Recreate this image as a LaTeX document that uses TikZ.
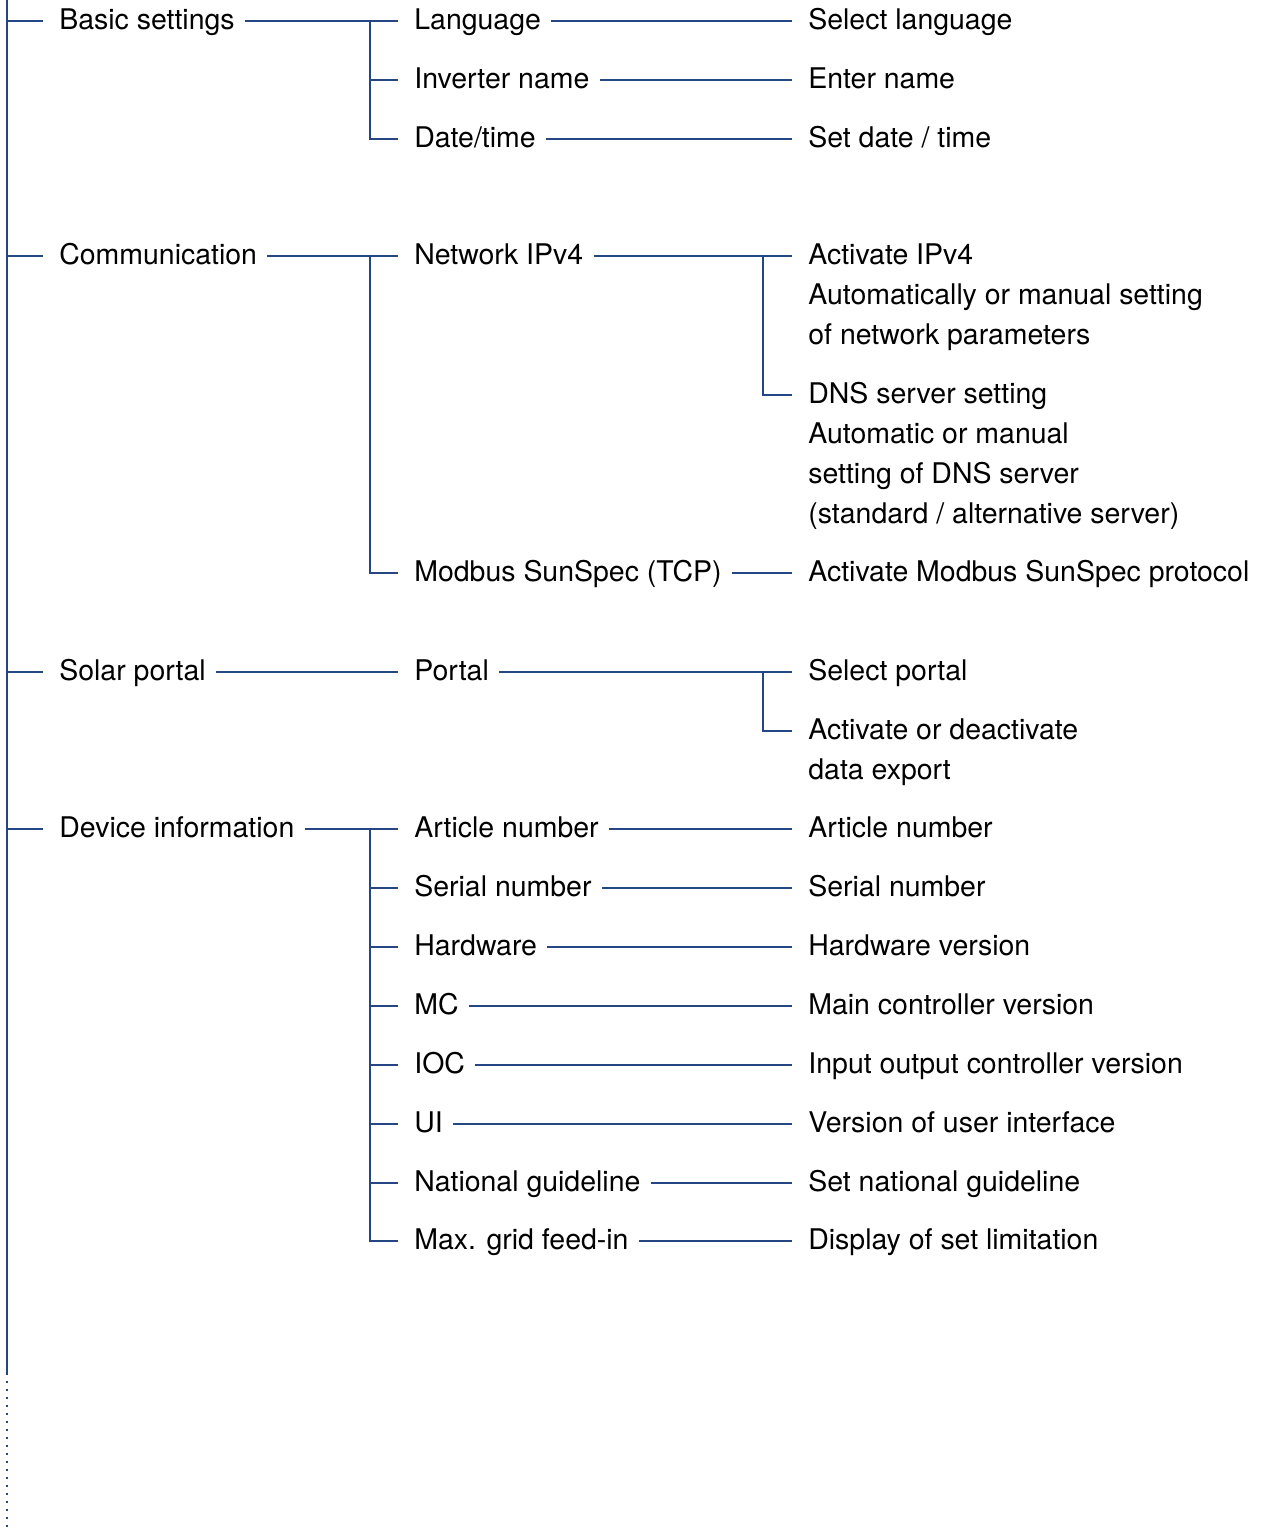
\documentclass[tikz,border=0pt]{standalone}
\usepackage{fontspec}
\setmainfont{TeX Gyre Heros}
\usepackage{tikz}
\usetikzlibrary{positioning}
\definecolor{menublue}{RGB}{36,70,130}

\begin{document}
\begin{tikzpicture}[
  x=0.02cm, y=-0.02cm,
  item/.style={anchor=west, inner sep=0pt, text height=9.7pt, text depth=0pt, font=\fontsize{16.2}{22.76}\selectfont},
  tie/.style={draw=menublue, line width=1.1pt, shorten <=0.2cm, shorten >=0.32cm},
  stub/.style={draw=menublue, line width=1.1pt, shorten >=0.32cm},
  spine/.style={draw=menublue, line width=1.3pt}
]
\useasboundingbox (0,0) rectangle (1274,1528);

\coordinate (spine-top) at (7,0);
\coordinate (spine-end) at (7,1373);
\coordinate (spine-foot) at (7,1528);
\coordinate (fork2) at (370,0);
\coordinate (fork3) at (763,0);

\node[item] (basic) at (59,21) {Basic settings};
\node[item] (comm) at (59,256) {Communication};
\node[item] (solar) at (59,672) {Solar portal};
\node[item] (device) at (59,829) {Device information};

\node[item] (language) at (414,21) {Language};
\node[item] (invname) at (414,80) {Inverter name};
\node[item] (datetime) at (414,139) {Date/time};
\node[item] (netipv4) at (414,256) {Network IPv4};
\node[item] (modbus) at (414,573) {Modbus SunSpec (TCP)};
\node[item] (portal) at (414,672) {Portal};
\node[item] (article) at (414,829) {Article number};
\node[item] (serial) at (414,888) {Serial number};
\node[item] (hardware) at (414,947) {Hardware};
\node[item] (mc) at (414,1006) {MC};
\node[item] (ioc) at (414,1065) {IOC};
\node[item] (ui) at (414,1124) {UI};
\node[item] (guideline) at (414,1183) {National guideline};
\node[item] (feedin) at (414,1241) {Max. grid feed-in};

\node[item] (selectlang) at (808,21) {Select language};
\node[item] (entername) at (808,80) {Enter name};
\node[item] (setdate) at (808,139) {Set date / time};
\node[item] (ipv4) at (808,256) {\vtop{\hbox{Activate IPv4}\hbox{Automatically or manual setting}\hbox{of network parameters}}};
\node[item] (dns) at (808,395) {\vtop{\hbox{DNS server setting}\hbox{Automatic or manual}\hbox{setting of DNS server}\hbox{(standard / alternative server)}}};
\node[item] (sunspec) at (808,573) {Activate Modbus SunSpec protocol};
\node[item] (selportal) at (808,672) {Select portal};
\node[item] (export) at (808,731) {\vtop{\hbox{Activate or deactivate}\hbox{data export}}};
\node[item] (artno) at (808,829) {Article number};
\node[item] (serno) at (808,888) {Serial number};
\node[item] (hwver) at (808,947) {Hardware version};
\node[item] (mcver) at (808,1006) {Main controller version};
\node[item] (iocver) at (808,1065) {Input output controller version};
\node[item] (uiver) at (808,1124) {Version of user interface};
\node[item] (setguide) at (808,1183) {Set national guideline};
\node[item] (limit) at (808,1241) {Display of set limitation};

\draw[spine] (spine-top) -- (spine-end);
\draw[spine, line width=1.5pt, dash pattern=on 1.2pt off 3.35pt] (spine-end) -- (spine-foot);
\draw[stub] (spine-top |- basic) -- (basic.west);
\draw[stub] (spine-top |- comm) -- (comm.west);
\draw[stub] (spine-top |- solar) -- (solar.west);
\draw[stub] (spine-top |- device) -- (device.west);

\draw[tie] (basic.east) -- (language.west);
\draw[stub] (fork2 |- language) |- (datetime.west);
\draw[stub] (fork2 |- invname) -- (invname.west);
\draw[tie] (comm.east) -- (netipv4.west);
\draw[stub] (fork2 |- netipv4) |- (modbus.west);
\draw[tie] (solar.east) -- (portal.west);
\draw[tie] (device.east) -- (article.west);
\draw[stub] (fork2 |- article) |- (feedin.west);
\draw[stub] (fork2 |- serial) -- (serial.west);
\draw[stub] (fork2 |- hardware) -- (hardware.west);
\draw[stub] (fork2 |- mc) -- (mc.west);
\draw[stub] (fork2 |- ioc) -- (ioc.west);
\draw[stub] (fork2 |- ui) -- (ui.west);
\draw[stub] (fork2 |- guideline) -- (guideline.west);

\draw[tie] (language) -- (selectlang.west);
\draw[tie] (invname.east) -- (entername.west);
\draw[tie] (datetime.east) -- (setdate.west);
\draw[tie] (netipv4.east) -- (ipv4.west);
\draw[stub] (fork3 |- ipv4) |- (dns.west);
\draw[tie] (modbus.east) -- (sunspec.west);
\draw[tie] (portal.east) -- (selportal.west);
\draw[stub] (fork3 |- selportal) |- (export.west);
\draw[tie] (article.east) -- (artno.west);
\draw[tie] (serial.east) -- (serno.west);
\draw[tie] (hardware.east) -- (hwver.west);
\draw[tie] (mc.east) -- (mcver.west);
\draw[tie] (ioc.east) -- (iocver.west);
\draw[tie] (ui.east) -- (uiver.west);
\draw[tie] (guideline.east) -- (setguide.west);
\draw[tie] (feedin.east) -- (limit.west);
\end{tikzpicture}
\end{document}
